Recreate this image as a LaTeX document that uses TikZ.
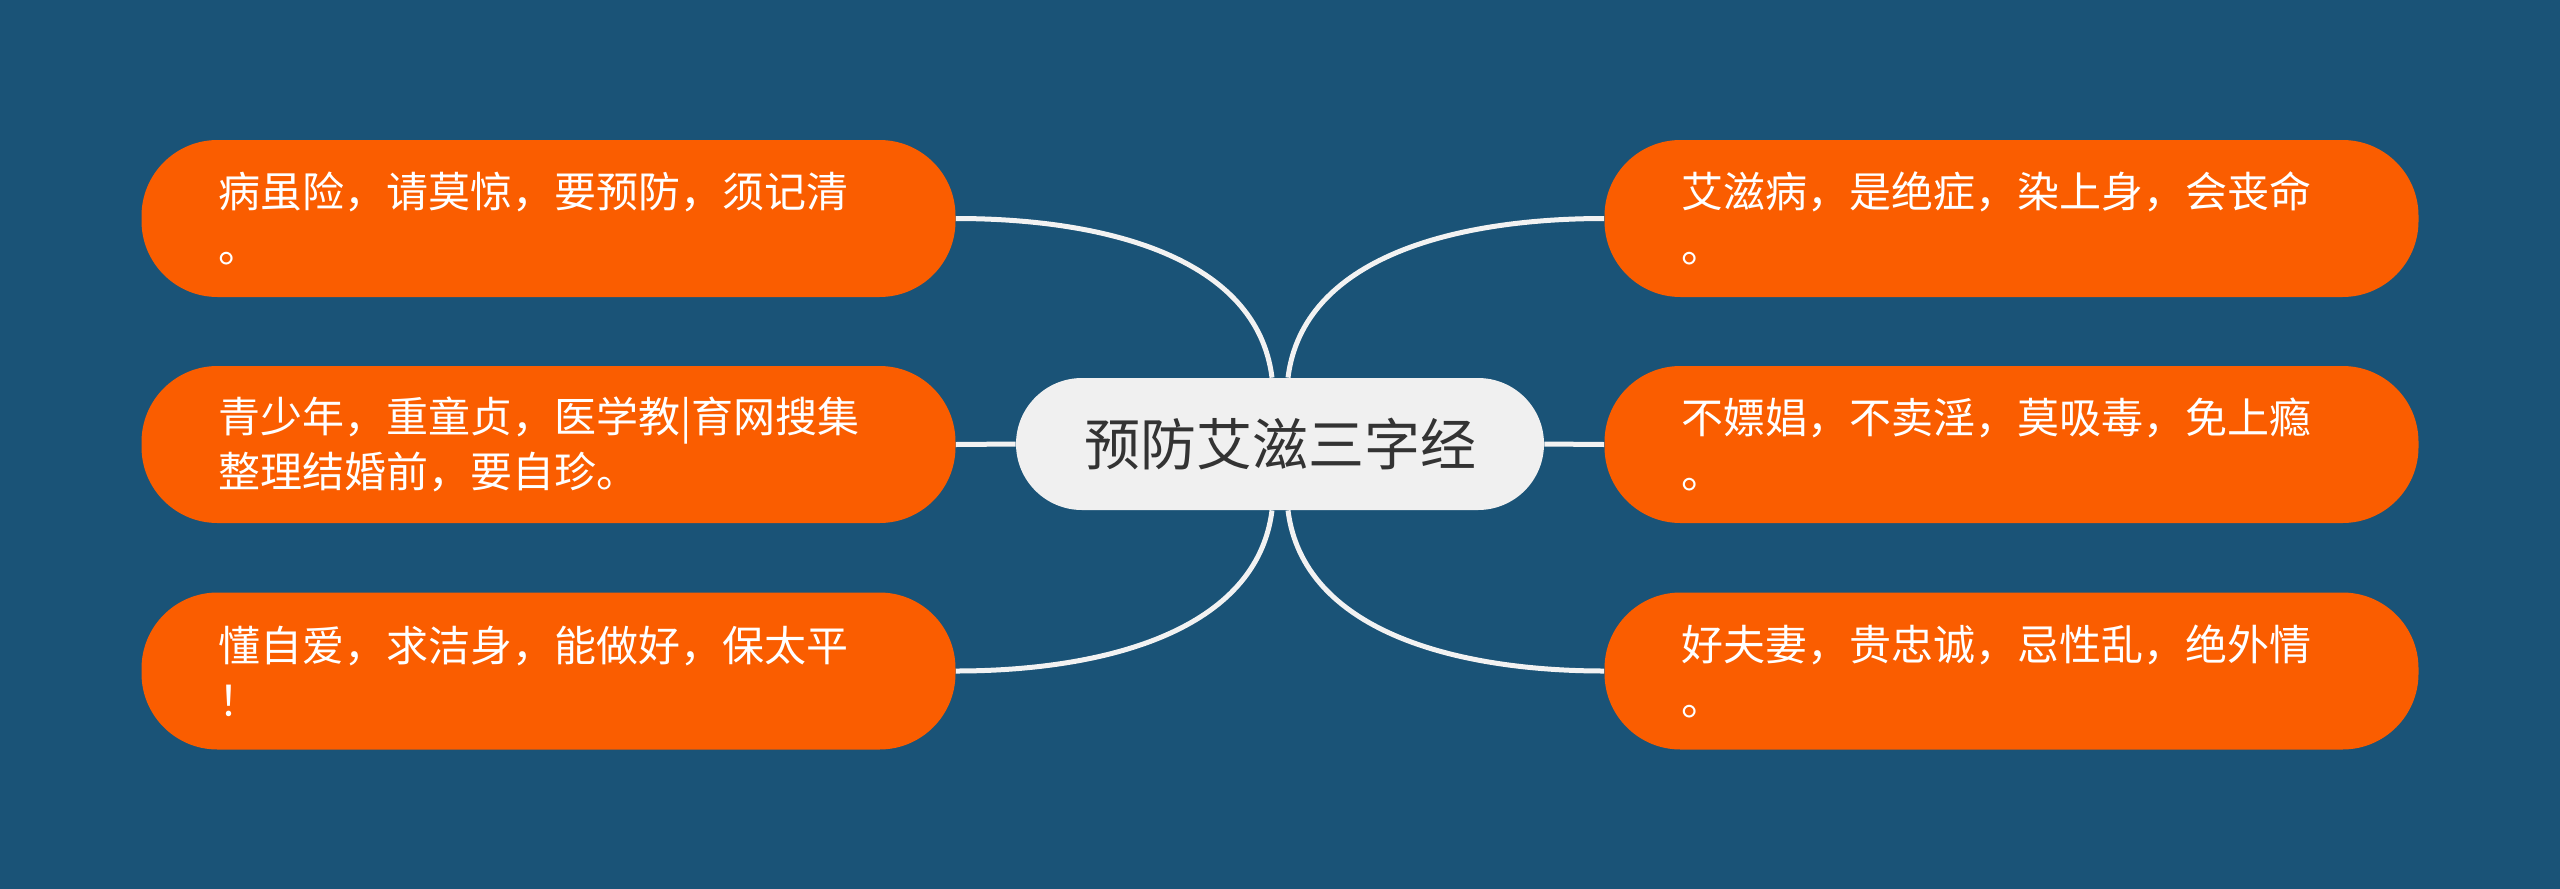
\documentclass[tikz,border=0pt]{standalone}
\usepackage{fontspec}
\setmainfont{Noto Sans CJK SC}
\usetikzlibrary{calc}
\definecolor{bg}{HTML}{1A5377}
\definecolor{leaf}{HTML}{FA5D00}
\definecolor{cfill}{HTML}{F0F0F0}
\definecolor{ctext}{HTML}{333333}
\definecolor{conn}{HTML}{F2F2F2}
\begin{document}
\begin{tikzpicture}[x=0.5pt,y=-0.5pt,
  leafbox/.style={fill=leaf, rounded corners=38pt, minimum width=407pt, minimum height=78.5pt,
    text width=330pt, inner xsep=38.5pt, inner ysep=0pt, align=left, text=white,
    font=\fontsize{21pt}{27.5pt}\selectfont},
  centerbox/.style={fill=cfill, rounded corners=33pt, minimum width=264pt, minimum height=66pt,
    inner sep=0pt, text=ctext, font=\fontsize{28pt}{34pt}\selectfont},
  connline/.style={draw=conn, line width=2.5pt}]
\fill[bg] (0,0) rectangle (2560,889);
\useasboundingbox (0,0) rectangle (2560,889);

\node[centerbox] (c) at (1280,444) {预防艾滋三字经};

\node[leafbox] (l1) at (548.5,218.5) {病虽险，请莫惊，要预防，须记清\\。};
\node[leafbox] (l2) at (548.5,444.5) {青少年，重童贞，医学教|育网搜集\\整理结婚前，要自珍。};
\node[leafbox] (l3) at (548.5,671) {懂自爱，求洁身，能做好，保太平\\！};

\node[leafbox] (r1) at (2011.5,218.5) {艾滋病，是绝症，染上身，会丧命\\。};
\node[leafbox] (r2) at (2011.5,444.5) {不嫖娼，不卖淫，莫吸毒，免上瘾\\。};
\node[leafbox] (r3) at (2011.5,671) {好夫妻，贵忠诚，忌性乱，绝外情\\。};

\draw[connline] ([xshift=-4pt]c.north) .. controls +(-15,-120) and +(150,0) .. (l1.east);
\draw[connline] (c.west) -- (l2.east);
\draw[connline] ([xshift=-4pt]c.south) .. controls +(-15,120) and +(150,0) .. (l3.east);
\draw[connline] ([xshift=4pt]c.north) .. controls +(15,-120) and +(-150,0) .. (r1.west);
\draw[connline] (c.east) -- (r2.west);
\draw[connline] ([xshift=4pt]c.south) .. controls +(15,120) and +(-150,0) .. (r3.west);
\end{tikzpicture}
\end{document}
